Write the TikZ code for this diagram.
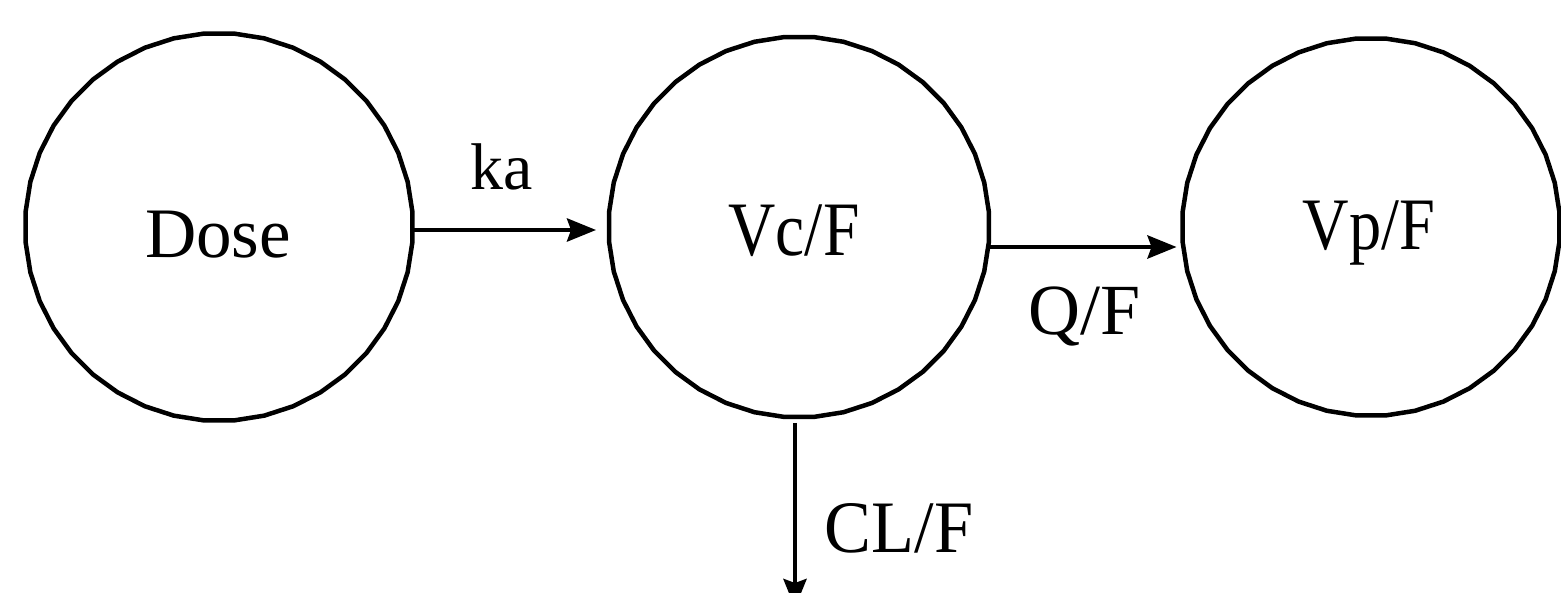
\documentclass[tikz,border=0pt]{standalone}
\usepackage{fontspec}
\setmainfont{Liberation Serif}
\usepackage{graphicx}
\usetikzlibrary{arrows.meta,shapes.geometric}
\begin{document}
\begin{tikzpicture}[x=1pt,y=-1pt,
  comp/.style={draw, line width=4.5pt, regular polygon, regular polygon sides=40,
    inner sep=0pt, outer sep=0pt},
  arr/.style={line width=4.5pt, -{Stealth[length=29pt,width=23pt,inset=4pt]}},
  lbl/.style={anchor=base, inner sep=0pt}]
\useasboundingbox (0,0) rectangle (1561,593);
% compartments
\node[comp, minimum size=388pt] (dose) at (219,227) {};
\node[comp, minimum size=381pt] (vc) at (799,227) {};
\node[comp, minimum size=378pt] (vp) at (1371,227) {};
% texts
\node[lbl, font=\fontsize{71}{84}\selectfont] (tdose) at (218,258) {Dose};
\node[lbl, font=\fontsize{77}{90}\selectfont] (tvc) at (794,256) {\scalebox{0.85}[1]{Vc/F}};
\node[lbl, font=\fontsize{74}{88}\selectfont] (tvp) at (1369,250) {\scalebox{0.87}[1]{Vp/F}};
\node[lbl, font=\fontsize{66}{78}\selectfont] (tka) at (502,190) {ka};
% free end of elimination arrow
\coordinate (out) at (795,608);
% connectors
\draw[arr] ([yshift=-3pt]dose.east) -- ([xshift=-13pt,yshift=-3pt]vc.west);
\draw[arr] ([yshift=-20pt]vc.east) -- ([xshift=-6pt,yshift=-20pt]vp.west);
\node[lbl, font=\fontsize{72}{86}\selectfont] (tq) at (1085,335) {Q/F};
\draw[arr] ([xshift=-4pt,yshift=-6pt]vc.south) -- (out);
\node[lbl, font=\fontsize{74}{88}\selectfont] (tcl) at (899,552) {\scalebox{0.95}[1]{CL/F}};
\end{tikzpicture}
\end{document}
